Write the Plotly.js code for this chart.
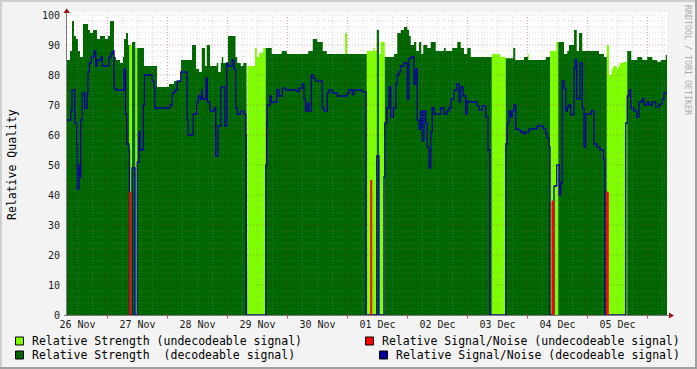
<!DOCTYPE html>
<html><head><meta charset="utf-8">
<script src="https://cdn.plot.ly/plotly-3.0.1.min.js"></script>
<style>html,body{margin:0;padding:0;background:#F3F3F3;overflow:hidden}#chart{width:697px;height:369px}</style>
</head><body><div id="chart"></div>
<script>
// x unit: hours since 26 Nov 00:00
const dayLabels = ['26 Nov','27 Nov','28 Nov','29 Nov','30 Nov','01 Dec','02 Dec','03 Dec','04 Dec','05 Dec'];
const dayLabelHours = [12,36,60,84,108,132,156,180,204,228];
const xStart = 7.8, xEnd = 247.8;

// Relative Strength (decodeable signal): step start times and values (null = not decodeable)
const strengthDecT = [7.8,9.0,9.8,10.6,11.4,12.2,13.0,14.2,16.2,17.0,
  18.2,19.8,21.0,23.0,24.2,25.0,26.6,27.4,29.0,30.2,
  30.6,31.4,32.2,32.7,33.8,35.1,35.9,38.6,43.8,48.6,
  50.6,53.4,57.8,59.4,60.6,61.7,63.0,63.7,65.0,67.7,
  68.3,69.3,69.7,70.3,72.2,75.2,75.9,77.3,78.3,79.6,
  79.9,87.3,89.7,93.7,95.7,104.3,106.1,107.9,110.1,111.7,
  119.0,119.8,127.7,131.7,132.6,134.9,138.6,139.9,141.3,142.6,
  143.9,144.6,145.3,146.6,147.5,148.6,149.5,150.3,151.9,153.3,
  155.3,158.6,159.3,161.9,163.9,165.3,166.6,167.9,169.3,177.7,
  183.3,186.3,187.1,190.6,192.2,199.3,201.0,204.3,206.6,207.9,
  208.6,210.6,211.7,212.6,213.9,220.6,222.6,223.7,231.9,233.5,
  235.9,237.9,239.9,241.9,243.9,245.3,247.3];
const strengthDecV = [85,88,98,93,92,88,86,97,95,94,
  95,92,93,92,93,98,86,85,84,86,
  92,94,90,null,91,null,89,83,76,77,
  78,85,90,82,81,89,83,90,83,84,
  81,84,86,84,93,86,84,83,84,83,
  null,89,87,88,87,88,92,91,88,87,
  87,87,null,95,null,86,87,94,95,96,
  95,93,90,91,88,91,87,90,89,91,
  88,89,88,89,91,89,87,89,86,null,
  85.6,89,85,86,85,86,null,91,87,88,
  90,95,88,94,88,87,86,null,88,85,
  86,85,86,85,84.4,85,86.7];

// Relative Strength (undecodeable signal)
const strengthUndT = [32.7,33.8,35.1,35.9,79.9,83.0,83.7,84.7,86.3,87.3,
  119.0,119.8,127.7,130.3,130.9,131.7,132.6,133.3,134.9,177.7,
  181.0,183.3,192.1,192.5,201.0,203.5,204.3,223.7,224.6,225.7,
  226.3,227.7,228.3,229.0,230.3,231.9];
const strengthUndV = [90,null,89,null,83,89,86,87.4,89,null,
  94,null,88,89,88,null,87,91,null,87,
  86,null,87,null,88,91,null,90,80,82,
  83,82,83,84,84.4,null];

// Relative Signal/Noise (decodeable signal)
const snrDecT = [7.8,9.3,9.8,10.9,11.7,11.9,12.6,13.0,13.3,13.9,
  14.9,15.9,16.2,16.7,17.5,18.6,19.3,19.9,21.3,21.9,
  24.6,25.3,25.9,26.6,27.3,30.6,31.2,31.7,32.6,32.8,
  33.8,35.0,35.9,36.6,37.0,38.3,38.8,41.9,42.6,42.9,
  49.0,49.9,50.9,51.9,53.3,55.7,55.9,56.2,58.3,59.7,
  60.3,61.0,61.7,61.9,63.4,63.9,65.0,66.6,67.3,68.2,
  69.3,70.9,71.7,72.2,73.9,74.6,75.3,75.9,77.3,78.6,
  79.3,79.5,87.3,87.7,87.9,89.0,89.5,91.7,92.6,93.9,
  95.3,99.9,100.6,101.9,102.6,103.2,103.9,104.6,105.5,106.3,
  107.3,109.9,110.6,111.9,112.6,113.9,115.9,119.9,120.6,121.9,
  122.6,125.9,127.4,131.7,132.6,134.6,134.9,135.7,136.6,137.3,
  138.3,139.3,139.9,140.6,141.3,142.6,143.9,144.6,145.5,146.6,
  147.3,147.9,148.6,149.3,149.9,150.6,151.3,151.9,152.6,153.3,
  153.9,154.6,157.3,158.6,159.7,160.6,161.5,162.6,163.7,164.6,
  165.3,166.3,167.3,167.9,168.6,171.9,172.6,173.9,175.3,176.2,
  177.0,183.3,183.9,184.6,185.3,185.9,186.6,187.3,188.2,189.3,
  190.3,191.3,192.6,195.9,198.3,199.3,199.9,200.6,201.0,202.6,
  203.7,204.7,205.3,205.9,206.6,207.3,207.9,208.6,209.3,210.6,
  211.0,211.7,213.0,213.9,214.6,215.3,217.5,218.6,219.9,221.0,
  222.4,222.9,231.3,231.9,232.6,233.3,234.6,235.7,236.6,237.9,
  238.6,239.9,240.6,241.9,243.3,244.6,245.9,246.6];
const snrDecV = [65,68,75,64,57,42,50,46,65,74,
  69,74,81,84,86,88,83,85,86,83,
  86,87,88,75.6,75,82,67,57,55,0,
  49,0,51,61,55,70,80,78,76,69,
  70,74,75,78,81,79,65,60,67,71,
  73,72,75,72,79,71,68,69,53,63,
  76,63,84,83,85,82,69,67,68,67,
  60,0,50,64,70,73,71,75,73,75.6,
  75,74.5,75.6,77,72,68,70.6,68,80,79,
  78,69,68,74,75,74,73,74,75,73.5,
  75,74.4,0,53,0,46,64,69,76,66,
  69,77,80,81,83,84,72,85.6,86,77,
  82,65,62,68,58,68,64,56,49,61,
  69,67,69,67,68,69,72,75,77,71,
  76,73,67,71.4,71,69.7,68.3,69.7,66,55,
  0,57,64,68,66,68,70,62,61.7,61,
  60.5,61,62,63,62,60.5,59,56,0,43,
  50,40,44,78,75.6,68,69.4,70,66.7,82,
  85,72,84,69,56,67,68,57,56,55,
  52,0,64,73,75,69,68,66,71,72,
  70,71,70,71,69.4,70.3,72,74];

// Relative Signal/Noise (undecodeable signal)
const snrUndT = [32.9,33.3,129.3,129.7,201.8,202.5,223.7,224.3];
const snrUndV = [41,null,45,null,38,null,41,null];

const yTicks = [0,10,20,30,40,50,60,70,80,90,100];

// ---- helpers turning step data into drawable paths ----
function stepArea(t, v, tEnd){
  const x=[], y=[]; let open=false;
  for(let i=0;i<t.length;i++){
    if(v[i]===null){ if(open){ x.push(t[i]); y.push(0); x.push(null); y.push(null); open=false; } continue; }
    const tn = i+1<t.length ? t[i+1] : tEnd;
    if(!open){ x.push(t[i]); y.push(0); open=true; }
    x.push(t[i]); y.push(v[i]); x.push(tn); y.push(v[i]);
  }
  if(open){ x.push(tEnd); y.push(0); }
  return {x,y};
}
function stepLine(t, v, tEnd){
  const x=t.slice(), y=v.slice();
  x.push(tEnd); y.push(v[v.length-1]);
  return {x,y};
}

const dec = stepArea(strengthDecT, strengthDecV, xEnd);
const und = stepArea(strengthUndT, strengthUndV, xEnd);
const snr = stepLine(snrDecT, snrDecV, xEnd);
const red = stepArea(snrUndT, snrUndV, xEnd);

const C_DEC='#006600', C_UND='#7FFF00', C_RED='#FF0000', C_BLUE='#000099';

const traces = [
  {x:und.x, y:und.y, mode:'lines', fill:'toself', fillcolor:C_UND, line:{width:0,color:C_UND}, hoverinfo:'skip', showlegend:false},
  {x:dec.x, y:dec.y, mode:'lines', fill:'toself', fillcolor:C_DEC, line:{width:0,color:C_DEC}, hoverinfo:'skip', showlegend:false},
  {x:snr.x, y:snr.y, mode:'lines', line:{shape:'hv', width:1.3, color:C_BLUE}, hoverinfo:'skip', showlegend:false},
  {x:red.x, y:red.y, mode:'lines', fill:'toself', fillcolor:C_RED, line:{width:1,color:C_RED}, hoverinfo:'skip', showlegend:false}
];

// ---- layout decorations (pixel -> paper) ----
const PL=67, PR=667, PT=15, PB=315;
const px = v => (v-PL)/(PR-PL);
const py = v => (PB-v)/(PB-PT);
const shapes = [];
shapes.push({type:'rect', xref:'paper', yref:'paper', x0:0, x1:px(668), y0:1, y1:py(12.5), fillcolor:'#FFFFFF', line:{width:0}, layer:'below'});
const GRID='rgba(140,140,140,0.35)', MGRID='rgba(150,30,30,0.38)';
for(let h=12; h<=xEnd; h+=6){
  const major = h%24===0;
  shapes.push({type:'line', xref:'x', yref:'paper', x0:h, x1:h, y0:0, y1:1, layer:'above',
    line:{color: major?MGRID:GRID, width:1, dash:'1px,2px'}});
}
for(let v=2; v<=100; v+=2){
  const major = v%10===0;
  shapes.push({type:'line', xref:'paper', yref:'y', x0:0, x1:1, y0:v, y1:v, layer:'above',
    line:{color: major?MGRID:GRID, width:1, dash:'1px,2px'}});
}
// axes
const AX='#7a7a7a', ARROW='#9a1010';
shapes.push({type:'line', xref:'paper', yref:'paper', x0:px(66.5), x1:px(66.5), y0:py(315.5), y1:py(12), line:{color:AX,width:1}});
shapes.push({type:'line', xref:'paper', yref:'paper', x0:px(64), x1:px(670), y0:py(315.5), y1:py(315.5), line:{color:AX,width:1}});
shapes.push({type:'path', xref:'paper', yref:'paper', fillcolor:ARROW, line:{width:0},
  path:`M ${px(63.5)},${py(13)} L ${px(70)},${py(13)} L ${px(66.7)},${py(8.5)} Z`});
shapes.push({type:'path', xref:'paper', yref:'paper', fillcolor:ARROW, line:{width:0},
  path:`M ${px(669)},${py(312.5)} L ${px(669)},${py(318.5)} L ${px(674)},${py(315.5)} Z`});
for(let h=24; h<=xEnd; h+=24){
  shapes.push({type:'line', xref:'x', yref:'paper', x0:h, x1:h, y0:py(315.5), y1:py(318.5), line:{color:'rgba(200,40,40,0.8)',width:1}});
}
// legend swatches
const sw = (x,y,c)=>shapes.push({type:'rect', xref:'paper', yref:'paper', x0:px(x), x1:px(x+8), y0:py(y), y1:py(y+8), fillcolor:c, line:{color:'#000',width:1}});
sw(15.5,337,C_UND); sw(15.5,351,C_DEC); sw(365.5,337,C_RED); sw(379.5,351,C_BLUE);
// frame
shapes.push({type:'rect', xref:'paper', yref:'paper', x0:px(0), x1:px(697), y0:py(0), y1:py(2), fillcolor:'#CFCFCF', line:{width:0}});
shapes.push({type:'rect', xref:'paper', yref:'paper', x0:px(0), x1:px(2), y0:py(0), y1:py(369), fillcolor:'#CFCFCF', line:{width:0}});
shapes.push({type:'rect', xref:'paper', yref:'paper', x0:px(695), x1:px(697), y0:py(0), y1:py(369), fillcolor:'#A0A0A0', line:{width:0}});
shapes.push({type:'rect', xref:'paper', yref:'paper', x0:px(0), x1:px(697), y0:py(367), y1:py(369), fillcolor:'#A0A0A0', line:{width:0}});

const MONO = 'DejaVu Sans Mono, monospace';
const legFont = {family:MONO, size:11.5, color:'#000'};
const ann = (x,y,text)=>({xref:'paper', yref:'paper', x:px(x), y:py(y), xanchor:'left', yanchor:'middle', text, showarrow:false, font:legFont});
const annotations = [
  ann(30,341,'Relative Strength (undecodeable signal)'),
  ann(30,355,'Relative Strength\u00A0 (decodeable signal)'),
  ann(380,341,'Relative Signal/Noise (undecodeable signal)'),
  ann(394,355,'Relative Signal/Noise (decodeable signal)'),
  {xref:'paper', yref:'paper', x:px(12), y:0.5, xanchor:'center', yanchor:'middle', textangle:-90, text:'Relative Quality', showarrow:false, font:legFont},
  {xref:'paper', yref:'paper', x:px(688), y:py(60), xanchor:'center', yanchor:'middle', textangle:90, text:'RRDTOOL / TOBI OETIKER', showarrow:false, font:{family:MONO, size:8.3, color:'#ABABAB'}}
];

const layout = {
  width:697, height:369,
  margin:{l:67, r:30, t:15, b:54, pad:0},
  paper_bgcolor:'#F3F3F3', plot_bgcolor:'#FFFFFF',
  xaxis:{range:[xStart,xEnd], tickvals:dayLabelHours, ticktext:dayLabels, showgrid:false, zeroline:false, showline:false, ticks:'',
    tickfont:{family:MONO, size:10, color:'#1a1a1a'}, ticklabelstandoff:2, fixedrange:true},
  yaxis:{range:[0,100], tickvals:yTicks, ticktext:yTicks.map(String), showgrid:false, zeroline:false, showline:false, ticks:'',
    tickfont:{family:MONO, size:10, color:'#1a1a1a'}, ticklabelstandoff:6, fixedrange:true},
  shapes, annotations, showlegend:false
};
Plotly.newPlot('chart', traces, layout, {staticPlot:true, displayModeBar:false});
</script></body></html>
